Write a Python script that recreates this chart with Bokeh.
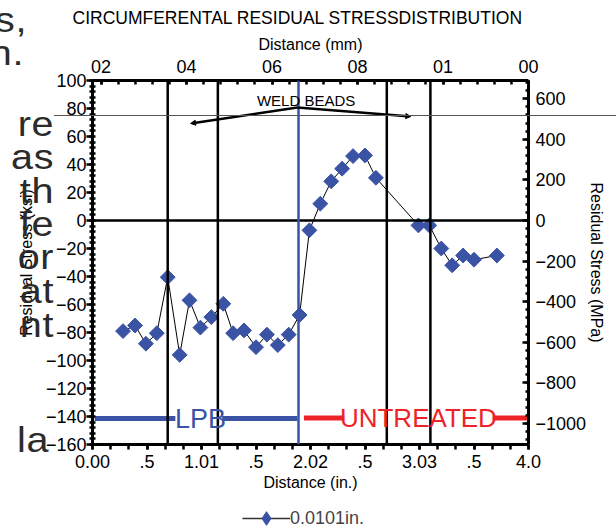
import numpy as np
from bokeh.plotting import figure
from bokeh.models import (Range1d, LinearAxis, FixedTicker, Span, Label, Legend,
                          LegendItem, Arrow, NormalHead, Div)
from bokeh.embed import file_html
from bokeh.resources import INLINE

# ---------------- data ----------------
distance_in = [0.28, 0.39, 0.49, 0.59, 0.69, 0.80, 0.89, 0.99, 1.09, 1.20,
               1.29, 1.39, 1.50, 1.60, 1.70, 1.80, 1.90, 1.99, 2.09, 2.19,
               2.29, 2.39, 2.50, 2.60, 2.99, 3.09, 3.20, 3.30, 3.40, 3.50, 3.71]
stress_ksi = [-79, -75, -88, -80.5, -40.5, -96, -57, -76.5, -69, -59.5,
              -80.5, -78.5, -90.5, -81.5, -89, -81.5, -67.5, -7, 12, 28,
              37, 46, 46.5, 30.5, -3.5, -3.5, -20, -32, -25, -28, -25]
series_label = "0.0101in."

left_ticks_ksi = list(range(-160, 101, 20))
right_ticks_mpa = list(range(-1000, 601, 200))
bottom_ticks_in = [0.0, 0.5, 1.0, 1.5, 2.0, 2.5, 3.0, 3.5, 4.0]
bottom_tick_labels = ["0.00", ".5", "1.01", ".5", "2.02", ".5", "3.03", ".5", "4.0"]
top_ticks_mm = [0, 20, 40, 60, 80, 100]
top_tick_labels = ["02", "04", "06", "08", "01", "00"]
marker_lines_in = [0.69, 1.15, 2.70, 3.10]
weld_line_in = 1.89
margin_text = ["s,", "n.", "re", "as", "th", "fe", "or", "at", "nt", "la"]

KSI_TO_MPA = 6.895
FONT = "Liberation Sans"
BLUE = "#3a53a4"
RED = "#ee2328"
W, H = 616, 529

# ---------------- figure ----------------
p = figure(width=W, height=H, x_range=Range1d(0, 4), y_range=Range1d(-160, 100),
           output_backend="svg", toolbar_location=None,
           min_border_left=92, min_border_right=88, min_border_top=80, min_border_bottom=85,
           title="CIRCUMFERENTAL RESIDUAL STRESSDISTRIBUTION")
p.xgrid.visible = False
p.ygrid.visible = False
p.outline_line_color = None
p.background_fill_color = "white"
p.border_fill_color = "white"

p.title.align = "left"
p.title.offset = -20
p.title.text_font = FONT
p.title.text_font_size = "17.5px"
p.title.text_font_style = "normal"
p.title.text_color = "black"


def style_axis(ax, tick_in, tick_out, minor_in, minor_out):
    ax.axis_line_width = 3
    ax.axis_line_color = "black"
    ax.major_tick_line_width = 2.5
    ax.minor_tick_line_width = 2.5
    ax.major_tick_in = tick_in
    ax.major_tick_out = tick_out
    ax.minor_tick_in = minor_in
    ax.minor_tick_out = minor_out
    ax.major_label_text_font = FONT
    ax.major_label_text_font_size = "18px"
    ax.major_label_text_color = "black"
    ax.axis_label_text_font = FONT
    ax.axis_label_text_font_size = "16px"
    ax.axis_label_text_font_style = "normal"
    ax.axis_label_text_color = "black"


# bottom axis (inches)
xb = p.xaxis[0]
xb.ticker = FixedTicker(ticks=bottom_ticks_in, minor_ticks=[i / 6 for i in range(25)])
xb.major_label_overrides = {t: s for t, s in zip(bottom_ticks_in, bottom_tick_labels)}
xb.axis_label = "Distance (in.)"
style_axis(xb, 0, 5, 0, 5)
xb.major_label_standoff = 5
xb.axis_label_standoff = 3

# left axis (ksi)
yl = p.yaxis[0]
yl.ticker = FixedTicker(ticks=left_ticks_ksi, minor_ticks=list(range(-160, 101, 4)))
yl.axis_label = "Residual Stress (ksi)"
style_axis(yl, 0, 6, 3, 3)
yl.major_label_standoff = 0
yl.axis_label_standoff = 8

# top axis (mm)
p.extra_x_ranges = {"mm": Range1d(-2, 100)}
xt = LinearAxis(x_range_name="mm",
                ticker=FixedTicker(ticks=top_ticks_mm, minor_ticks=list(range(0, 101, 4))),
                axis_label="Distance (mm)")
xt.major_label_overrides = {t: s for t, s in zip(top_ticks_mm, top_tick_labels)}
style_axis(xt, 4, 0, 4, 0)
xt.major_label_standoff = 8
xt.axis_label_standoff = 4
p.add_layout(xt, "above")

# right axis (MPa)
p.extra_y_ranges = {"mpa": Range1d(-160 * KSI_TO_MPA, 100 * KSI_TO_MPA)}
yr = LinearAxis(y_range_name="mpa",
                ticker=FixedTicker(ticks=right_ticks_mpa, minor_ticks=list(range(-1080, 681, 40))),
                axis_label="Residual Stress (MPa)")
style_axis(yr, 6, 1, 3, 1)
yr.major_label_standoff = 6
yr.axis_label_standoff = -1
p.add_layout(yr, "right")

# ---------------- reference lines ----------------
p.add_layout(Span(location=0, dimension="width", line_color="black", line_width=2.5))
for xv in marker_lines_in:
    p.add_layout(Span(location=xv, dimension="height", line_color="black", line_width=2.5))
p.add_layout(Span(location=weld_line_in, dimension="height", line_color=BLUE, line_width=2.5))

# weld bead arrows and label
for xe, ye in [(0.90, 69.3), (2.92, 74.3)]:
    p.add_layout(Arrow(end=NormalHead(size=5, fill_color="black", line_color="black"),
                       x_start=1.88, y_start=80.7, x_end=xe, y_end=ye,
                       line_color="black", line_width=2.5))
p.add_layout(Label(x=1.96, y=86, text="WELD BEADS", text_align="center",
                   text_baseline="middle", text_font=FONT, text_font_size="15px",
                   text_color="black"))

# LPB / UNTREATED bands
p.line([0.02, 0.76], [-141.5, -141.5], line_color=BLUE, line_width=5)
p.line([1.19, 1.88], [-141.5, -141.5], line_color=BLUE, line_width=5)
p.add_layout(Label(x=0.99, y=-141.5, text="LPB", text_align="center", text_baseline="middle",
                   text_font=FONT, text_font_size="27px", text_color=BLUE))
p.line([1.94, 2.31], [-141, -141], line_color=RED, line_width=5)
p.line([3.67, 4.0], [-141, -141], line_color=RED, line_width=5)
p.add_layout(Label(x=2.99, y=-141, text="UNTREATED", text_align="center", text_baseline="middle",
                   text_font=FONT, text_font_size="26px", text_color=RED))

# ---------------- series ----------------
line_r = p.line(distance_in, stress_ksi, line_color="black", line_width=1)
scat_r = p.scatter(distance_in, stress_ksi, marker="square", angle=np.pi / 4, size=10.5,
                   fill_color=BLUE, line_color=BLUE)

# ---------------- legend (small transparent figure placed under the chart) ----------------
LG_H = 34
lf = figure(width=170, height=LG_H, x_range=Range1d(10, 11), y_range=Range1d(0, 1),
            output_backend="svg", toolbar_location=None,
            x_axis_location=None, y_axis_location=None, min_border=0,
            outline_line_color=None, background_fill_alpha=0, border_fill_alpha=0,
            styles={"position": "absolute", "left": "242px", "top": f"{518 - LG_H // 2}px",
                    "z-index": "11"})
lf.xgrid.visible = False
lf.ygrid.visible = False
l_line = lf.line(distance_in, stress_ksi, line_color="#333333", line_width=1.5)
l_scat = lf.scatter(distance_in, stress_ksi, marker="diamond", size=13,
                    fill_color=BLUE, line_color=BLUE)
legend = Legend(items=[LegendItem(label=series_label, renderers=[l_line, l_scat])],
                location=(0, 0), glyph_width=48, glyph_height=LG_H, label_height=LG_H,
                label_text_font=FONT, label_text_font_size="18px", label_text_baseline="middle",
                border_line_color=None, background_fill_alpha=0,
                padding=0, margin=0, spacing=0, label_standoff=0)
lf.add_layout(legend)

# ---------------- stray page text and rule at the left margin (overlay) ----------------
margin_right = [22, 19, 49, 49, 49, 49, 49, 49, 49, 44]
margin_base = [27, 60, 131, 164, 198, 231, 264, 298, 332, 447]
fs = 35
parts = []
for t, r, b in zip(margin_text, margin_right, margin_base):
    parts.append(
        f'<div style="position:absolute;left:{r - 140}px;width:140px;top:{b - 29.6:.1f}px;'
        f'text-align:right;font-family:\'{FONT}\';font-size:{fs}px;line-height:{fs}px;'
        f'letter-spacing:0.5px;transform:scaleX(1.13);transform-origin:right center;'
        f'color:#2b2b2b;white-space:nowrap;">{t}</div>')
parts.append('<div style="position:absolute;left:49px;top:110px;width:567px;height:1px;'
             'background:#555555;"></div>')
overlay = Div(text='<div style="position:relative;width:616px;height:529px;">' + "".join(parts) + "</div>",
              width=W, height=H,
              styles={"position": "absolute", "left": "0px", "top": "0px",
                      "pointer-events": "none", "z-index": "10", "overflow": "visible"})

open("out.html", "w").write(file_html([p, overlay, lf], INLINE))
